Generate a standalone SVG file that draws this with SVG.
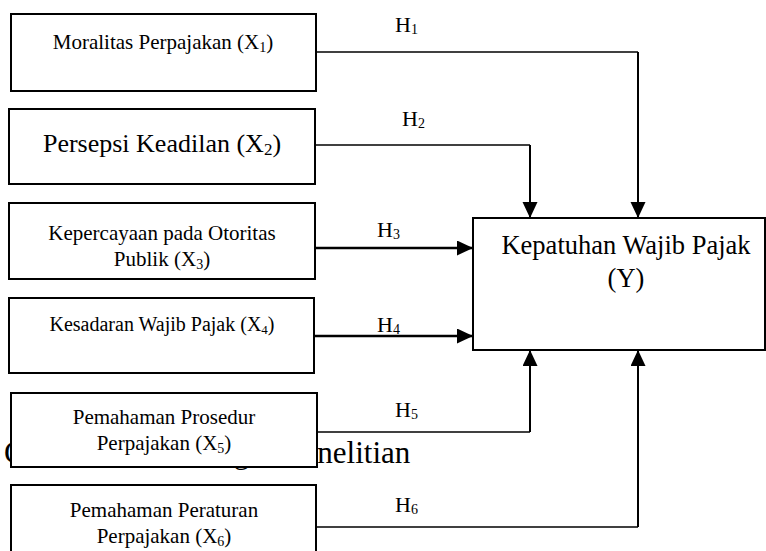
<svg xmlns="http://www.w3.org/2000/svg" width="766" height="551" viewBox="0 0 766 551">
<style>
  .t { font-family: "Liberation Serif", "Times New Roman", serif; fill: #000; }
  .box { fill: #fff; stroke: #000; stroke-width: 2; }
  .c { fill: none; stroke: #000; }
</style>
<defs>
  <marker id="ah" markerUnits="userSpaceOnUse" markerWidth="17" markerHeight="16" refX="16" refY="7.5" orient="auto">
    <path d="M0,0 L16,7.5 L0,15 z" fill="#000"/>
  </marker>
</defs>
<rect width="766" height="551" fill="#fff"/>

<text class="t" x="4" y="463" font-size="31">Gambar 2.1 Kerangka Penelitian</text>

<g id="connectors">
  <path class="c" stroke-width="1.4" d="M316,52 H638"/>
  <path class="c" stroke-width="2" d="M638,52 V218" marker-end="url(#ah)"/>
  <path class="c" stroke-width="1.4" d="M315,145 H530"/>
  <path class="c" stroke-width="2" d="M530,145 V218" marker-end="url(#ah)"/>
  <path class="c" stroke-width="2.5" d="M315,248 H473" marker-end="url(#ah)"/>
  <path class="c" stroke-width="2.5" d="M314,336 H473" marker-end="url(#ah)"/>
  <path class="c" stroke-width="1.4" d="M317,432 H530"/>
  <path class="c" stroke-width="2" d="M530,432 V350" marker-end="url(#ah)"/>
  <path class="c" stroke-width="1.4" d="M316,527 H638"/>
  <path class="c" stroke-width="2" d="M638,527 V350" marker-end="url(#ah)"/>
  <text class="t" x="395" y="32" font-size="22">H<tspan font-size="14" dy="2">1</tspan></text>
  <text class="t" x="402" y="126" font-size="22">H<tspan font-size="14" dy="2">2</tspan></text>
  <text class="t" x="377" y="237" font-size="22">H<tspan font-size="14" dy="2">3</tspan></text>
  <text class="t" x="377" y="332" font-size="22">H<tspan font-size="14" dy="2">4</tspan></text>
  <text class="t" x="395" y="417" font-size="22">H<tspan font-size="14" dy="2">5</tspan></text>
  <text class="t" x="395" y="512" font-size="22">H<tspan font-size="14" dy="2">6</tspan></text>
</g>

<g id="x1">
  <rect class="box" x="11" y="14" width="305" height="77"/>
  <text class="t" x="163" y="49" font-size="21" text-anchor="middle">Moralitas Perpajakan (X<tspan font-size="14" dy="3">1</tspan><tspan dy="-3">)</tspan></text>
</g>
<g id="x2">
  <rect class="box" x="9" y="109" width="306" height="75"/>
  <text class="t" x="162" y="152" font-size="26" text-anchor="middle">Persepsi Keadilan (X<tspan font-size="17" dy="3">2</tspan><tspan dy="-3">)</tspan></text>
</g>
<g id="x3">
  <rect class="box" x="9" y="203" width="306" height="76"/>
  <text class="t" x="162" y="240" font-size="21" text-anchor="middle">Kepercayaan pada Otoritas</text>
  <text class="t" x="162" y="266" font-size="21" text-anchor="middle">Publik (X<tspan font-size="14" dy="3">3</tspan><tspan dy="-3">)</tspan></text>
</g>
<g id="x4">
  <rect class="box" x="9" y="298" width="305" height="75"/>
  <text class="t" x="162" y="331" font-size="20" text-anchor="middle">Kesadaran Wajib Pajak (X<tspan font-size="13" dy="3">4</tspan><tspan dy="-3">)</tspan></text>
</g>
<g id="x5">
  <rect class="box" x="11" y="393" width="306" height="74"/>
  <text class="t" x="164" y="424" font-size="21" text-anchor="middle">Pemahaman Prosedur</text>
  <text class="t" x="164" y="450" font-size="21" text-anchor="middle">Perpajakan (X<tspan font-size="14" dy="3">5</tspan><tspan dy="-3">)</tspan></text>
</g>
<g id="x6">
  <rect class="box" x="11" y="485" width="305" height="70"/>
  <text class="t" x="164" y="517" font-size="21" text-anchor="middle">Pemahaman Peraturan</text>
  <text class="t" x="164" y="543" font-size="21" text-anchor="middle">Perpajakan (X<tspan font-size="14" dy="3">6</tspan><tspan dy="-3">)</tspan></text>
</g>
<g id="y">
  <rect class="box" x="473" y="218" width="292" height="132"/>
  <text class="t" x="626" y="254" font-size="26.5" text-anchor="middle">Kepatuhan Wajib Pajak</text>
  <text class="t" x="626" y="287" font-size="26.5" text-anchor="middle">(Y)</text>
</g>
</svg>
